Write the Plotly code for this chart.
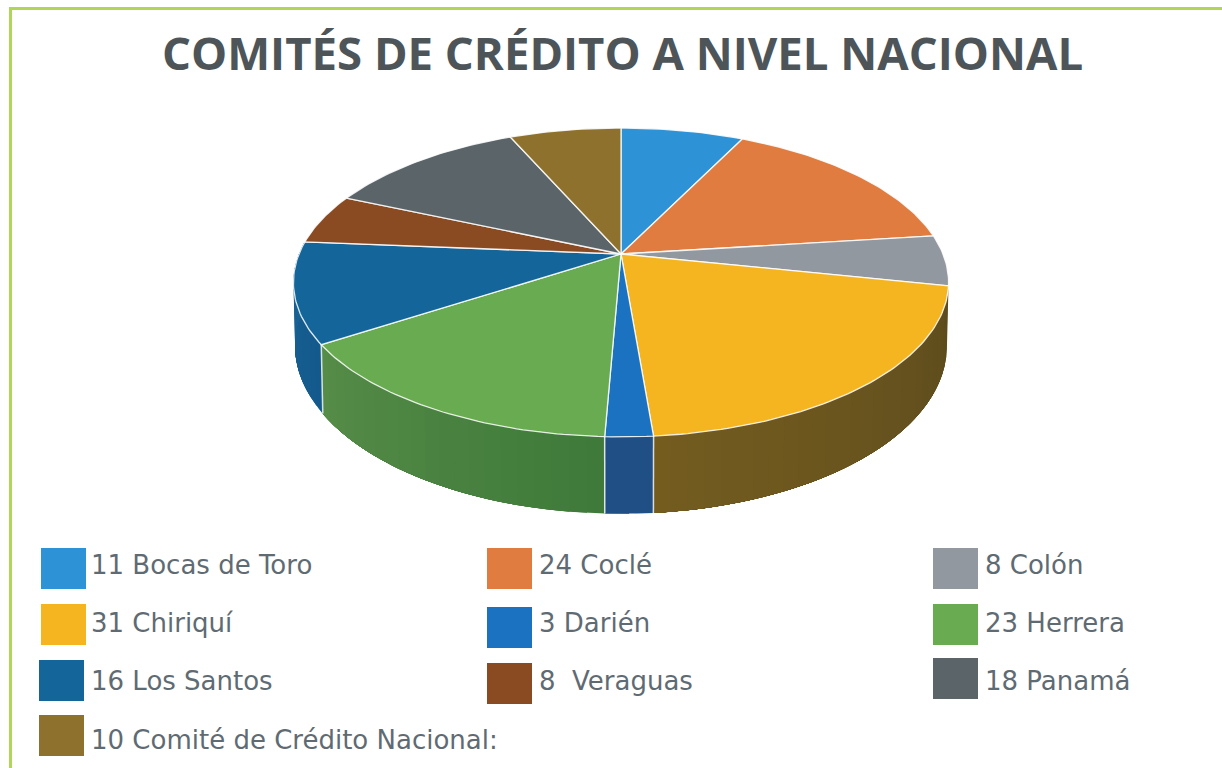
import math
import plotly.graph_objects as go

# ---- data ----
names = ["Bocas de Toro", "Coclé", "Colón", "Chiriquí", "Darién", "Herrera",
         "Los Santos", "\u00a0Veraguas", "Panamá", "Comité de Crédito Nacional:"]
values = [11, 24, 8, 31, 3, 23, 16, 8, 18, 10]
title_text = "COMITÉS DE CRÉDITO A NIVEL NACIONAL"

# ---- styles ----
top_colors = ["#2e92d6", "#e07c3f", "#9298a0", "#f5b520", "#1a72c0",
              "#69ab50", "#14659a", "#8a4a22", "#5b6469", "#8d712c"]
side_colors = {3: ("#5c4b1d", "#745c1f"), 4: ("#1f4f85", "#1f4f85"),
               5: ("#3f7a3a", "#568c48"), 6: ("#14598c", "#1a6496")}
swatch_boxes = [(41, 548), (487, 548), (933, 548),
                (41, 604), (487, 607), (933, 604),
                (39, 660), (487, 663), (933, 658),
                (39, 715)]
label_pos = [(89, 565), (537, 565), (983, 565),
             (89, 623), (537, 623), (983, 623),
             (89, 681), (537, 681), (983, 681),
             (89, 740)]
label_font = "DejaVu Sans"

# ---- projection of the tilted disc ----
CX, CY = 621.0, 254.0
B, A, K = 322.0, 149.2, 0.184
BOT_SX, BOT_SY, BOT_D = 0.995, 1.087, 61.0


def top_pt(t):
    x, y = math.sin(t), math.cos(t)
    w = 1 + K * y
    return B * x / w, -A * y / w


def px(p):
    return CX + p[0], CY + p[1]


def bot(p):
    return CX + BOT_SX * p[0], CY + BOT_SY * p[1] + BOT_D


def mix(c1, c2, f):
    a = [int(c1[i:i + 2], 16) for i in (1, 3, 5)]
    b = [int(c2[i:i + 2], 16) for i in (1, 3, 5)]
    return "rgb(%d,%d,%d)" % tuple(round(a[i] + (b[i] - a[i]) * f) for i in range(3))


total = sum(values)
bounds = [0.0]
for v in values:
    bounds.append(bounds[-1] + v / total * 2 * math.pi)

fig = go.Figure()


def poly(xs, ys, fill, line=None, width=0.6):
    fig.add_trace(go.Scatter(x=xs, y=ys, mode="lines", fill="toself", fillcolor=fill,
                             line=dict(color=line or fill, width=width),
                             hoverinfo="skip", showlegend=False))


# extruded rim: each band runs to the slice end, later bands paint over earlier ones
for i, (c1, c2) in side_colors.items():
    t0, t1 = bounds[i], bounds[i + 1]
    n = max(2, int((t1 - t0) / math.radians(2.5)))
    for j in range(n):
        a = t0 + (t1 - t0) * j / n
        steps = [a + (t1 - a) * k / 24 for k in range(25)]
        upper = [px(top_pt(s)) for s in steps]
        lower = [bot(top_pt(s)) for s in reversed(steps)]
        q = upper + lower + [upper[0]]
        poly([p[0] for p in q], [p[1] for p in q], mix(c1, c2, (j + 0.5) / n), width=0)

# rim separators
for i in (4, 5, 6):
    p = top_pt(bounds[i])
    s, e = px(p), bot(p)
    fig.add_trace(go.Scatter(x=[s[0], e[0]], y=[s[1], e[1]], mode="lines",
                             line=dict(color="rgba(255,255,255,0.8)", width=1.5),
                             hoverinfo="skip", showlegend=False))

# top face
for i, col in enumerate(top_colors):
    t0, t1 = bounds[i], bounds[i + 1]
    n = max(4, int((t1 - t0) / math.radians(1)))
    pts = [px(top_pt(t0 + (t1 - t0) * j / n)) for j in range(n + 1)]
    xs = [CX] + [p[0] for p in pts] + [CX]
    ys = [CY] + [p[1] for p in pts] + [CY]
    poly(xs, ys, col, "rgba(255,255,255,0.85)", 1.3)

# frame, swatches
shapes = [
    dict(type="rect", xref="x", yref="y", x0=9, x1=12, y0=7, y1=768,
         fillcolor="#b0d657", line_width=0, layer="below"),
    dict(type="rect", xref="x", yref="y", x0=9, x1=1222, y0=7, y1=10,
         fillcolor="#b0d657", line_width=0, layer="below"),
]
for (x, y), col in zip(swatch_boxes, top_colors):
    shapes.append(dict(type="rect", xref="x", yref="y", x0=x, x1=x + 45, y0=y, y1=y + 41,
                       fillcolor=col, line_width=0))

annots = [dict(x=622, y=52, xref="x", yref="y", text="<b>%s</b>" % title_text, showarrow=False,
               font=dict(family="Open Sans", size=45.5, color="#4d5559"),
               xanchor="center", yanchor="middle")]
for (x, y), v, nm in zip(label_pos, values, names):
    annots.append(dict(x=x, y=y, xref="x", yref="y", text="%d %s" % (v, nm), showarrow=False,
                       font=dict(family=label_font, size=26, color="#5f6b73"),
                       xanchor="left", yanchor="middle"))

fig.update_layout(
    width=1222, height=768, margin=dict(l=0, r=0, t=0, b=0),
    paper_bgcolor="white", plot_bgcolor="white", showlegend=False,
    xaxis=dict(range=[0, 1222], visible=False, fixedrange=True),
    yaxis=dict(range=[768, 0], visible=False, fixedrange=True),
    shapes=shapes, annotations=annots,
)
fig.write_html("out.html", config={"displayModeBar": False},
               post_script="document.body.style.margin='0';document.body.style.overflow='hidden';")
